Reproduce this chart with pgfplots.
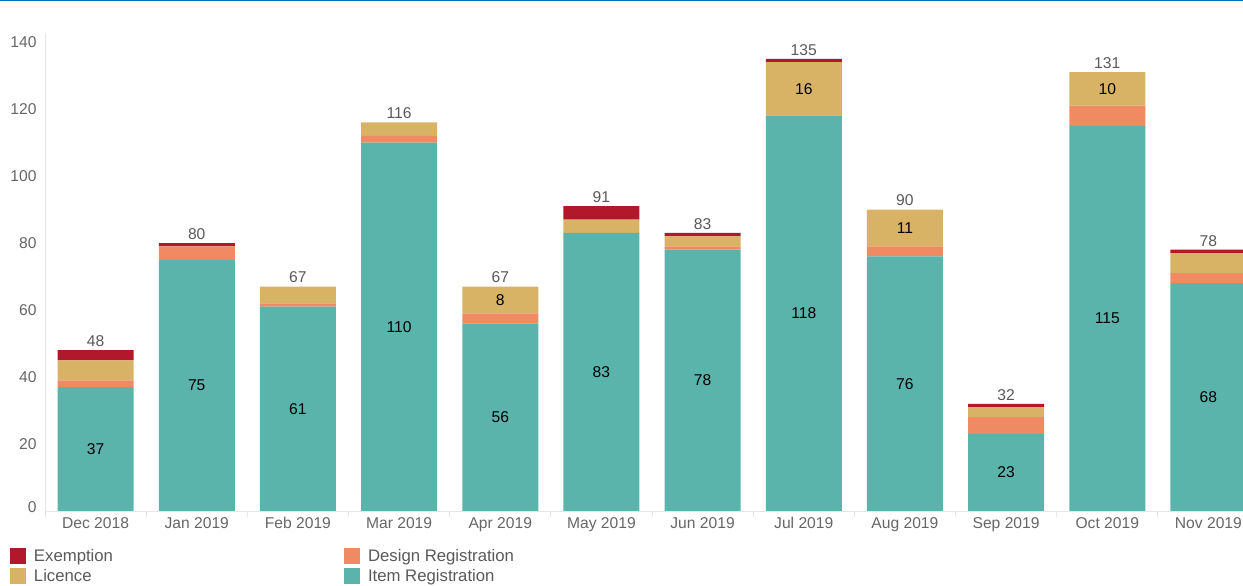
\documentclass[border=0pt]{standalone}
\usepackage{fontspec}
\setmainfont{Liberation Sans}
\usepackage{pgfplots}
\usepackage{pgfplotstable}
\pgfplotsset{compat=1.18}
\definecolor{itemc}{HTML}{5AB4AC}
\definecolor{designc}{HTML}{EF8A62}
\definecolor{licc}{HTML}{D8B365}
\definecolor{exc}{HTML}{B2182B}
\definecolor{tickc}{HTML}{666666}
\definecolor{totc}{HTML}{595959}
\definecolor{axc}{HTML}{E6E6E6}
\definecolor{topblue}{HTML}{0070C0}

\pgfplotstableread{
x item design licence exempt total
0 37 2 6 3 48
1 75 4 0 1 80
2 61 1 5 0 67
3 110 2 4 0 116
4 56 3 8 0 67
5 83 0 4 4 91
6 78 1 3 1 83
7 118 0 16 1 135
8 76 3 11 0 90
9 23 5 3 1 32
10 115 6 10 0 131
11 68 3 6 1 78
}\data

\pgfplotstableread{
x mid val
4 63 8
7 126 16
8 84.5 11
10 126 10
}\liclab

\begin{document}
\begin{tikzpicture}
\useasboundingbox (0,0) rectangle (1243bp,586bp);
\begin{axis}[
  at={(45bp,75bp)}, anchor=south west, scale only axis,
  width=1214bp, height=478bp,
  xmin=-0.5, xmax=11.5, ymin=0, ymax=142.7,
  ybar stacked, bar width=76bp,
  axis x line*=bottom, axis y line*=left,
  axis line style={-, draw=axc, line width=0.8bp},
  xtick={0,...,11},
  xticklabels={Dec 2018,Jan 2019,Feb 2019,Mar 2019,Apr 2019,May 2019,Jun 2019,Jul 2019,Aug 2019,Sep 2019,Oct 2019,Nov 2019},
  minor xtick={-0.5,0.5,...,11.5},
  ytick={0,20,...,140},
  yticklabels={\raisebox{7bp}{0},20,40,60,80,100,120,140},
  major tick length=0pt, minor tick length=6bp,
  minor tick style={draw=axc, line width=0.8bp},
  tick align=outside,
  ticklabel style={font=\fontsize{15.7}{18}\selectfont, text=tickc},
  xticklabel style={text height=11bp, text depth=3bp, yshift=-3bp},
  yticklabel style={xshift=-5bp},
  /pgf/number format/assume math mode=true,
  legend columns=2,
  legend image code/.code={\path[#1] (0bp,-8bp) rectangle (16bp,8bp);},
  legend style={at={(-0.029,-0.076)}, anchor=north west, draw=none, fill=none,
    font=\fontsize{16.8}{19}\selectfont, text=totc, inner sep=0pt,
    row sep=2bp, cells={anchor=west},
    /tikz/every odd column/.append style={column sep=6bp},
    /tikz/every even column/.append style={column sep=229bp}},
]
\addplot[fill=itemc, draw=none, forget plot] table[x=x,y=item]{\data};
\addplot[fill=designc, draw=none, forget plot] table[x=x,y=design]{\data};
\addplot[fill=licc, draw=none, forget plot] table[x=x,y=licence]{\data};
\addplot[fill=exc, draw=none, forget plot] table[x=x,y=exempt]{\data};
\addlegendimage{fill=exc, draw=none}
\addlegendentry{Exemption}
\addlegendimage{fill=designc, draw=none}
\addlegendentry{Design Registration}
\addlegendimage{fill=licc, draw=none}
\addlegendentry{Licence}
\addlegendimage{fill=itemc, draw=none}
\addlegendentry{Item Registration}
\end{axis}
\begin{axis}[
  at={(45bp,75bp)}, anchor=south west, scale only axis,
  width=1214bp, height=478bp,
  xmin=-0.5, xmax=11.5, ymin=0, ymax=142.7,
  hide axis, clip=false,
  /pgf/number format/assume math mode=true,
]
\addplot[draw=none, mark=none, nodes near coords, point meta=explicit,
  every node near coord/.append style={anchor=center, text=black, font=\fontsize{15.7}{18}\selectfont}]
  table[x=x, y expr=\thisrow{item}/2, meta=item]{\data};
\addplot[draw=none, mark=none, nodes near coords, point meta=explicit,
  every node near coord/.append style={anchor=center, text=black, font=\fontsize{15.7}{18}\selectfont}]
  table[x=x, y=mid, meta=val]{\liclab};
\addplot[draw=none, mark=none, nodes near coords, point meta=explicit,
  every node near coord/.append style={anchor=south, text=totc, font=\fontsize{15.7}{18}\selectfont}]
  table[x=x, y=total, meta=total]{\data};
\end{axis}
\draw[topblue, line width=1.6bp] (0,586bp) -- (1243bp,586bp);
\end{tikzpicture}
\end{document}
